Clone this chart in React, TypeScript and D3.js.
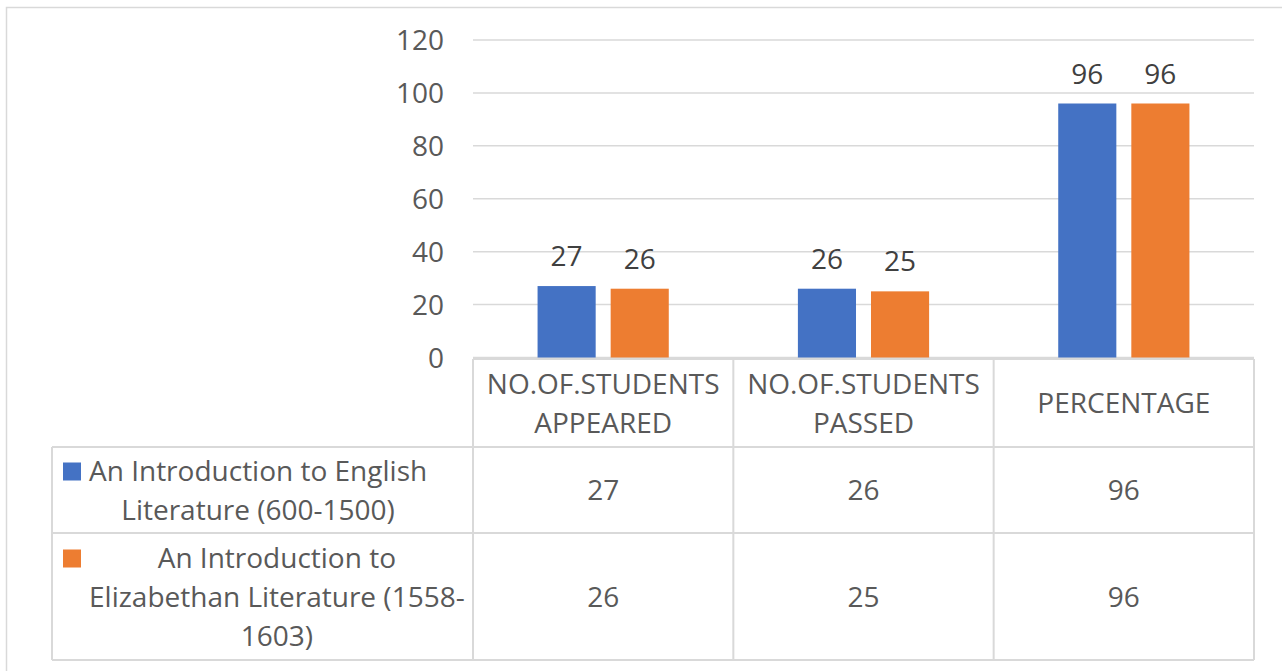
import React, { ReactElement, useRef, useEffect } from 'react';
import * as d3 from 'd3';

// chart data
const categories = ['NO.OF.STUDENTS APPEARED', 'NO.OF.STUDENTS PASSED', 'PERCENTAGE'];
const categoryLines = [['NO.OF.STUDENTS', 'APPEARED'], ['NO.OF.STUDENTS', 'PASSED'], ['PERCENTAGE']];
const seriesNames = [
  'An Introduction to English Literature (600-1500)',
  'An Introduction to Elizabethan Literature (1558-1603)'
];
const seriesLines = [
  ['An Introduction to English', 'Literature (600-1500)'],
  ['An Introduction to', 'Elizabethan Literature (1558-', '1603)']
];
const englishValues = [27, 26, 96];
const elizabethanValues = [26, 25, 96];
const seriesValues = [englishValues, elizabethanValues];
const seriesColors = ['#4472C4', '#ED7D31'];
const yTicks = [0, 20, 40, 60, 80, 100, 120];

const W = 1282, H = 671;
const FONT = '"Open Sans", sans-serif';
const FS = 28;
const TEXT = '#595959';
const LINE = '#d9d9d9';

const App = (): ReactElement => {
  const ref = useRef<SVGSVGElement>(null);

  useEffect(() => {
    const svg = d3.select(ref.current);
    svg.selectAll('*').remove();

    const plotLeft = 473, plotRight = 1254;
    const tableLeft = 52;
    const rowTops = [359, 447, 533, 660]; // header, row1, row2, bottom

    // outer chart border
    svg.append('path')
      .attr('d', `M6.5,${H} V7.5 H${W}`)
      .attr('fill', 'none')
      .attr('stroke', LINE)
      .attr('stroke-width', 1.5);

    const y = d3.scaleLinear().domain([0, 120]).range([357.5, 40]);
    const x = d3.scaleBand<string>().domain(categories).range([plotLeft, plotRight]).paddingInner(0).paddingOuter(0);
    const groupW = x.bandwidth() * 0.504;
    const xs = d3.scaleBand<number>().domain([0, 1]).range([0, groupW]).paddingInner(0.205).paddingOuter(0);

    // gridlines + tick labels
    const g = svg.append('g');
    g.selectAll('line.grid').data(yTicks).enter().append('line')
      .attr('x1', plotLeft).attr('x2', plotRight)
      .attr('y1', d => y(d)).attr('y2', d => y(d))
      .attr('stroke', LINE).attr('stroke-width', 1.5);
    g.selectAll('text.tick').data(yTicks).enter().append('text')
      .attr('x', plotLeft - 29).attr('y', d => y(d) + 10)
      .attr('text-anchor', 'end')
      .attr('font-family', FONT).attr('font-size', FS).attr('fill', TEXT)
      .text(d => d);

    // bars and data labels
    seriesValues.forEach((vals, si) => {
      const bx = (i: number) => (x(categories[i]) as number) + (x.bandwidth() - groupW) / 2 + (xs(si) as number);
      svg.append('g').selectAll('rect').data(vals).enter().append('rect')
        .attr('x', (d, i) => bx(i))
        .attr('y', d => y(d))
        .attr('width', xs.bandwidth())
        .attr('height', d => y(0) - y(d))
        .attr('fill', seriesColors[si]);
      svg.append('g').selectAll('text').data(vals).enter().append('text')
        .attr('x', (d, i) => bx(i) + xs.bandwidth() / 2)
        .attr('y', d => y(d) - 20)
        .attr('text-anchor', 'middle')
        .attr('font-family', FONT).attr('font-size', FS).attr('fill', '#404040')
        .text(d => d);
    });

    // data table grid
    const t = svg.append('g').attr('stroke', LINE).attr('stroke-width', 2).attr('fill', 'none');
    const colEdges = [plotLeft, ...categories.map(c => (x(c) as number) + x.bandwidth())];
    colEdges.forEach(cx => {
      t.append('line').attr('x1', cx).attr('x2', cx).attr('y1', rowTops[0]).attr('y2', rowTops[3]);
    });
    t.append('line').attr('x1', tableLeft).attr('x2', tableLeft).attr('y1', rowTops[1]).attr('y2', rowTops[3]);
    t.append('line').attr('x1', plotLeft).attr('x2', plotRight).attr('y1', rowTops[0]).attr('y2', rowTops[0]);
    rowTops.slice(1).forEach(ry => {
      t.append('line').attr('x1', tableLeft).attr('x2', plotRight).attr('y1', ry).attr('y2', ry);
    });

    const lineH = 39;
    const capHalf = 10;

    // header labels
    categoryLines.forEach((lines, ci) => {
      const cx = (x(categories[ci]) as number) + x.bandwidth() / 2;
      const cy = (rowTops[0] + rowTops[1]) / 2;
      lines.forEach((ln, li) => {
        svg.append('text')
          .attr('x', cx)
          .attr('y', cy + capHalf + (li - (lines.length - 1) / 2) * lineH)
          .attr('text-anchor', 'middle')
          .attr('font-family', FONT).attr('font-size', FS).attr('fill', TEXT)
          .text(ln);
      });
    });

    // rows: legend key + wrapped name + values
    seriesValues.forEach((vals, si) => {
      const top = rowTops[si + 1], bottom = rowTops[si + 2];
      const cy = (top + bottom) / 2;
      const lines = seriesLines[si];
      const textLeft = 89;
      const lg = svg.append('g');
      const texts = lines.map((ln, li) => lg.append('text')
        .attr('y', cy + capHalf + (li - (lines.length - 1) / 2) * lineH)
        .attr('text-anchor', 'middle')
        .attr('font-family', FONT).attr('font-size', FS).attr('fill', TEXT)
        .text(ln));
      const maxW = d3.max(texts, tx => (tx.node() as SVGTextElement).getComputedTextLength()) || 0;
      texts.forEach(tx => tx.attr('x', textLeft + maxW / 2));
      const firstBase = cy + capHalf - ((lines.length - 1) / 2) * lineH;
      lg.append('rect')
        .attr('x', 63).attr('y', firstBase - 18)
        .attr('width', 18).attr('height', 18)
        .attr('fill', seriesColors[si]);
      lg.append('title').text(seriesNames[si]);

      vals.forEach((v, ci) => {
        svg.append('text')
          .attr('x', (x(categories[ci]) as number) + x.bandwidth() / 2)
          .attr('y', cy + capHalf)
          .attr('text-anchor', 'middle')
          .attr('font-family', FONT).attr('font-size', FS).attr('fill', TEXT)
          .text(v);
      });
    });
  }, []);

  return (
    <svg ref={ref} width={W} height={H}
      style={{ position: 'absolute', left: 0, top: 0, background: '#fff' }} />
  );
};

export default App;
